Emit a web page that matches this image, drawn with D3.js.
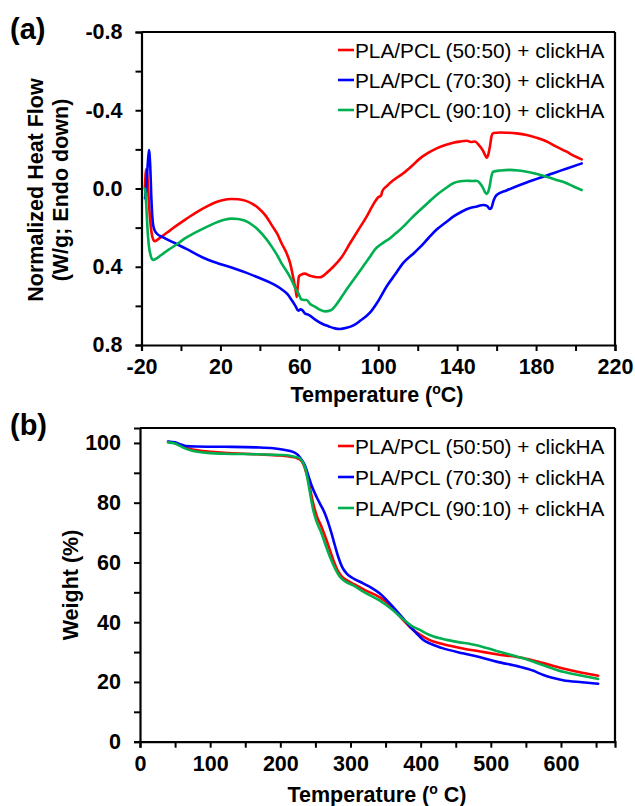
<!DOCTYPE html>
<html>
<head>
<meta charset="utf-8">
<script src="https://cdn.jsdelivr.net/npm/d3@7"></script>
<style>
  body { margin: 0; background: #fff; }
  svg { display: block; font-family: Arial, "Liberation Sans", sans-serif; }
</style>
</head>
<body>
<svg id="chart" width="635" height="806"></svg>
<script>
// ---------- DATA ----------
const seriesNames = ["PLA/PCL (50:50) + clickHA", "PLA/PCL (70:30) + clickHA", "PLA/PCL (90:10) + clickHA"];
const seriesColors = ["#ff0000", "#0000ff", "#00b050"];

// (a) DSC: [temperature (°C), normalized heat flow (W/g)]
const dsc5050 = [[-18.3,0.0],[-17.6,-0.10],[-17.0,-0.06],[-16.2,0.08],[-15.0,0.22],[-14.0,0.262],[-13.3,0.27],[-11,0.255],[-7,0.225],[-3,0.195],[2,0.16],[7,0.127],[12,0.098],[17,0.073],[21,0.06],[25.7,0.054],[29,0.055],[32.5,0.062],[36,0.077],[39.2,0.10],[43,0.14],[46,0.187],[49,0.235],[51,0.28],[53.5,0.33],[55.3,0.38],[57,0.46],[58.3,0.53],[58.7,0.555],[59.2,0.50],[59.8,0.45],[61,0.44],[62.8,0.435],[65,0.445],[67.9,0.452],[70.5,0.454],[74,0.43],[77.2,0.40],[81.5,0.35],[85.7,0.28],[90,0.21],[94.1,0.144],[97,0.09],[100,0.045],[101.5,0.035],[102,0.015],[104.3,-0.012],[108,-0.045],[112.7,-0.078],[117,-0.115],[121.2,-0.154],[125.5,-0.183],[129.6,-0.205],[134,-0.222],[138,-0.234],[141.5,-0.24],[144.8,-0.244],[147,-0.238],[149,-0.24],[151,-0.222],[153,-0.195],[154.3,-0.168],[155,-0.158],[155.8,-0.175],[156.6,-0.214],[157.5,-0.27],[158.3,-0.284],[162,-0.286],[165.1,-0.285],[170,-0.282],[175.2,-0.274],[180,-0.26],[185.4,-0.24],[190,-0.215],[195.5,-0.188],[199,-0.168],[203.1,-0.149]];
const dsc7030 = [[-18.2,0.05],[-17.5,-0.02],[-16.8,-0.13],[-16.2,-0.197],[-15.6,-0.12],[-15.0,0.05],[-14.3,0.17],[-13.5,0.21],[-12.3,0.23],[-9,0.25],[-3,0.28],[3,0.31],[10.5,0.35],[18,0.38],[27.4,0.41],[33,0.43],[39.2,0.455],[45,0.48],[51,0.515],[54,0.54],[56.1,0.57],[58,0.6],[59.5,0.625],[60.5,0.618],[61.5,0.622],[63,0.64],[64.5,0.645],[68,0.67],[71.3,0.69],[75,0.705],[78,0.715],[80.6,0.718],[84,0.712],[87.4,0.70],[91,0.675],[95.8,0.635],[100,0.575],[104.3,0.50],[108.5,0.44],[112.7,0.38],[117,0.34],[121.2,0.30],[125.5,0.253],[129.6,0.21],[134,0.175],[138,0.144],[142,0.12],[146.5,0.10],[150,0.092],[153.2,0.084],[155.3,0.09],[156.5,0.105],[157.3,0.10],[158.5,0.06],[160,0.033],[165,0.01],[171.8,-0.018],[180,-0.048],[188.7,-0.078],[196,-0.104],[203.1,-0.128]];
const dsc9010 = [[-18.2,0.0],[-17.6,0.08],[-17.0,0.2],[-16.3,0.29],[-15.3,0.345],[-14.2,0.365],[-13.2,0.362],[-10,0.34],[-6.4,0.314],[-2,0.285],[2,0.255],[6,0.232],[10.5,0.209],[15,0.187],[18.9,0.17],[22,0.16],[25.7,0.154],[29,0.156],[32.5,0.165],[36,0.185],[39.2,0.212],[43,0.255],[46,0.297],[49,0.345],[51,0.383],[54,0.43],[56.1,0.468],[58,0.51],[59.5,0.536],[61.2,0.568],[62.5,0.57],[63.7,0.57],[65.5,0.59],[67.9,0.604],[70.5,0.62],[73,0.628],[76,0.622],[79,0.59],[83,0.53],[87.4,0.468],[91.5,0.41],[95.8,0.349],[98.5,0.31],[100.9,0.289],[103.5,0.27],[105.9,0.255],[109,0.228],[112.7,0.195],[117,0.15],[121.2,0.11],[125.5,0.07],[129.6,0.033],[134,0.0],[138,-0.027],[141.5,-0.037],[144.8,-0.04],[148,-0.038],[149.9,-0.04],[151.5,-0.028],[153,-0.005],[154.2,0.02],[155,0.028],[155.8,0.015],[156.6,-0.018],[157.3,-0.06],[158.2,-0.086],[162,-0.092],[166.8,-0.095],[171,-0.092],[175.2,-0.086],[180,-0.075],[185.4,-0.06],[190,-0.045],[195.5,-0.027],[199,-0.01],[203.1,0.008]];

// (b) TGA: [temperature (°C), weight (%)]
const tga5050 = [[40,100.3],[50,100.0],[57,99.3],[65,98.4],[80,97.6],[100,97.0],[120,96.7],[166,96.2],[200,95.8],[215,95.4],[225,94.8],[230,94.0],[233,92.8],[237,90.0],[240,87.3],[246.9,79.7],[252,75.5],[258.8,71.9],[265,68],[270.7,64.1],[276,60.5],[282.5,57.0],[288,55.2],[294.4,54.1],[305,52.7],[320,50.8],[341.9,48.3],[355,46.0],[375,40.7],[385,38.3],[394,36.6],[405,35.0],[413,34.0],[430,32.8],[460,31.2],[485,30.2],[508,29.3],[546,28.0],[575,26.3],[603,24.5],[630,23.1],[653,22.1]];
const tga7030 = [[40,100.5],[50,100.2],[57,99.6],[65,99.0],[80,98.8],[120,98.7],[166,98.5],[190,98.2],[205,97.7],[218,97.0],[225,96.0],[230,94.5],[235,92.5],[240,89],[245,85.5],[251.7,81.9],[258,79],[263.5,76.4],[268,73.5],[273,69.7],[278,65.5],[282.5,61.9],[288,58.5],[294.4,56.3],[303,54.8],[318,53.0],[330,51.5],[341.9,49.6],[356,46.3],[365,44.0],[375,41.3],[385,38.5],[394,36.3],[403,34.2],[413,32.9],[430,31.4],[460,29.6],[485,28.3],[508,26.8],[541,25.1],[560,23.8],[575,22.3],[603,20.6],[630,19.9],[653,19.4]];
const tga9010 = [[40,100.2],[50,99.8],[57,99.0],[65,98.1],[76,97.3],[100,96.6],[120,96.4],[166,96.2],[209,95.9],[220,95.4],[228,94.8],[232,93.5],[235,92.0],[238,89],[240,86.4],[246.9,77.5],[252,73.5],[258.8,69.7],[265,65.5],[270.7,61.9],[278,58],[284.9,55.2],[293,53.6],[303.9,52.3],[320,50.0],[341.9,47.2],[358,44.5],[375,41.0],[387,38.8],[398.9,37.4],[412,35.8],[427.4,34.6],[450,33.5],[479.6,32.3],[508,30.4],[546,27.9],[575,25.6],[603,23.4],[630,22.1],[653,21.0]];

// ticks
const dscXTicks = d3.range(-20, 221, 20);
const dscXLabels = [-20, 20, 60, 100, 140, 180, 220];
const dscYTicks = d3.range(-8, 9, 2).map(d => d / 10);
const dscYLabels = [-0.8, -0.4, 0.0, 0.4, 0.8];
const tgaXTicks = d3.range(0, 651, 50);
const tgaXLabels = [0, 100, 200, 300, 400, 500, 600];
const tgaYTicks = d3.range(0, 101, 10);
const tgaYLabels = [0, 20, 40, 60, 80, 100];

// ---------- DRAW ----------
const svg = d3.select("#chart");
const FONT = 'Arial, "Liberation Sans", sans-serif';

function panel(opts) {
  const { left, right, top, bottom, xDomain, yDomain, xTicks, xLabels, yTicks, yLabels, yFmt, series, legendY } = opts;
  const x = d3.scaleLinear().domain(xDomain).range([left, right]);
  const y = d3.scaleLinear().domain(yDomain).range([top, bottom]);
  const g = svg.append("g");

  const isLab = (arr, d) => arr.some(v => Math.abs(v - d) < 1e-9);

  const xa = g.append("g").attr("transform", `translate(0,${bottom})`)
    .call(d3.axisBottom(x).tickValues(xTicks).tickSize(6).tickPadding(8)
      .tickFormat(d => isLab(xLabels, d) ? String(d) : ""));
  const ya = g.append("g").attr("transform", `translate(${left},0)`)
    .call(d3.axisLeft(y).tickValues(yTicks).tickSize(6).tickPadding(13)
      .tickFormat(d => isLab(yLabels, d) ? yFmt(d) : ""));
  [xa, ya].forEach(a => {
    a.select(".domain").attr("stroke", "#000").attr("stroke-width", 2.2);
    a.selectAll(".tick line").attr("stroke", "#000").attr("stroke-width", 2);
    a.selectAll(".tick text").attr("fill", "#000").attr("font-size", 21.5).attr("font-weight", "bold")
      .attr("font-family", FONT);
  });
  // box top/right
  g.append("line").attr("x1", left).attr("x2", right).attr("y1", top).attr("y2", top)
    .attr("stroke", "#000").attr("stroke-width", 2.2);
  g.append("line").attr("x1", right).attr("x2", right).attr("y1", top).attr("y2", bottom)
    .attr("stroke", "#000").attr("stroke-width", 2.2);

  const line = d3.line().x(d => x(d[0])).y(d => y(d[1])).curve(d3.curveMonotoneX);
  series.forEach((s, i) => {
    g.append("path").datum(s).attr("d", line).attr("fill", "none")
      .attr("stroke", seriesColors[i]).attr("stroke-width", 2.6)
      .attr("stroke-linejoin", "round").attr("stroke-linecap", "round");
  });

  // legend
  seriesNames.forEach((n, i) => {
    const ly = legendY[i];
    g.append("line").attr("x1", 338).attr("x2", 354).attr("y1", ly).attr("y2", ly)
      .attr("stroke", seriesColors[i]).attr("stroke-width", 2.6);
    g.append("text").attr("x", 355).attr("y", ly + 7.5).attr("font-size", 20.8).attr("fill", "#000").text(n);
  });
  return { x, y };
}

panel({
  left: 141.5, right: 615, top: 32, bottom: 345,
  xDomain: [-20, 220], yDomain: [-0.8, 0.8],
  xTicks: dscXTicks, xLabels: dscXLabels, yTicks: dscYTicks, yLabels: dscYLabels,
  yFmt: d => d.toFixed(1).replace("-0.0", "0.0"),
  series: [dsc5050, dsc7030, dsc9010], legendY: [50, 80, 110]
});

panel({
  left: 140, right: 615, top: 428, bottom: 741.7,
  xDomain: [0, 677], yDomain: [105, 0],
  xTicks: tgaXTicks, xLabels: tgaXLabels, yTicks: tgaYTicks, yLabels: tgaYLabels,
  yFmt: d => String(d),
  series: [tga5050, tga7030, tga9010], legendY: [446, 477, 508]
});

// panel letters
svg.append("text").attr("x", 10).attr("y", 39).attr("font-size", 29).attr("font-weight", "bold").text("(a)");
svg.append("text").attr("x", 10).attr("y", 435).attr("font-size", 29).attr("font-weight", "bold").text("(b)");

// axis titles
function tempTitle(cx, yb, space) {
  const t = svg.append("text").attr("x", cx).attr("y", yb).attr("text-anchor", "middle")
    .attr("font-size", 21.5).attr("font-weight", "bold");
  t.append("tspan").text("Temperature (");
  t.append("tspan").attr("font-size", 14).attr("dy", -8).text("o");
  t.append("tspan").attr("dy", 8).text((space ? " " : "") + "C)");
}
tempTitle(377, 402, false);
tempTitle(377, 802, true);

const yt = svg.append("text").attr("transform", "translate(43,190) rotate(-90)")
  .attr("text-anchor", "middle").attr("font-size", 21.5).attr("font-weight", "bold");
yt.append("tspan").attr("x", 0).attr("y", 0).text("Normalized Heat Flow");
yt.append("tspan").attr("x", 0).attr("y", 25).text("(W/g; Endo down)");

svg.append("text").attr("transform", "translate(78,585) rotate(-90)")
  .attr("text-anchor", "middle").attr("font-size", 21.5).attr("font-weight", "bold").text("Weight (%)");
</script>
</body>
</html>
